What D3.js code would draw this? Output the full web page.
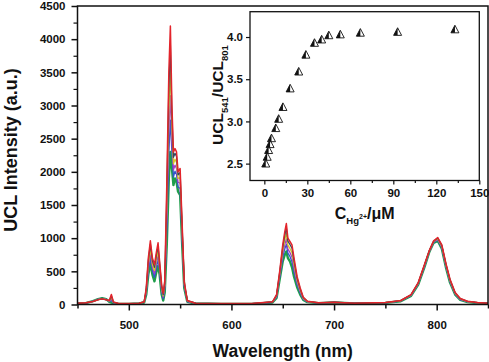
<!DOCTYPE html>
<html>
<head>
<meta charset="utf-8">
<script src="https://cdn.jsdelivr.net/npm/d3@7"></script>
<style>
  html, body { margin: 0; padding: 0; background: #fff; }
  svg { display: block; }
  text { font-family: "Liberation Sans", Arial, sans-serif; font-weight: bold; fill: #111; }
</style>
</head>
<body>
<div id="chart"></div>
<script>
// Spektren (Wellenlänge in nm) – von unten (grün) nach oben (rot)
const wavelengths = [450,458,465,470,474,478,481,483,485,490,500,510,515,517,519,521,523,525,527,528.5,530,532,533.5,535,537,539,540.5,542,543.5,545,546.5,548,550,552,554,557,565,590,620,640,644,647,650,652,653.5,655,657,659,661,664,667,670,674,685,700,720,750,765,775,782,788,793,797,801,805,809,813,818,823,830,840,850];

const specGreen  = [15,20,50,80,95,80,40,30,20,10,10,15,30,150,450,620,450,350,500,580,450,150,60,180,900,1900,2300,2050,1800,1900,1850,1700,1650,900,250,40,15,10,10,30,100,380,650,750,800,700,650,560,420,260,150,70,35,20,30,15,25,50,130,300,560,800,930,960,840,560,330,150,70,35,20,15];
const specBlue   = [16,21,49,78,92,78,45,60,25,11,11,16,32,175,510,700,515,410,575,665,500,190,85,225,1120,2280,2780,2290,1920,2010,1960,1770,1750,970,275,45,16,11,11,32,112,410,710,840,905,775,725,645,490,300,175,80,39,21,31,16,26,52,135,307,570,805,937,972,855,575,342,157,75,39,22,16];
const specPurple = [17,22,48,76,90,75,49,85,29,12,12,17,35,195,560,770,565,460,635,735,540,215,110,255,1300,2620,3150,2480,2030,2100,2050,1840,1830,1040,295,49,17,12,12,34,122,435,760,905,990,835,785,715,545,330,195,88,42,22,32,17,27,54,139,313,578,809,943,982,867,587,352,163,79,42,24,17];
const specYellow = [18,23,47,74,88,73,53,110,33,13,13,18,36,215,610,840,610,510,695,805,580,245,130,290,1480,2940,3540,2670,2120,2190,2140,1900,1910,1100,315,53,18,13,13,36,132,460,810,975,1075,895,845,780,600,365,215,96,45,23,33,18,28,56,143,319,586,813,949,992,879,599,362,169,83,45,26,18];
const specSlate  = [19,24,46,72,86,71,57,130,37,14,14,19,38,235,660,910,660,560,755,875,620,275,150,325,1660,3260,3910,2860,2220,2280,2230,1955,1990,1155,335,57,19,14,14,38,142,480,860,1045,1155,955,905,850,655,395,235,104,48,24,34,19,29,58,147,325,594,817,955,1002,891,611,372,175,87,48,28,19];
const specRed    = [20,25,45,70,85,70,60,150,40,15,15,20,40,250,700,960,700,600,800,930,650,300,170,350,1800,3500,4200,3000,2300,2350,2300,2000,2050,1200,350,60,20,15,15,40,150,500,900,1100,1220,1000,950,900,700,420,250,110,50,25,35,20,30,60,150,330,600,820,960,1010,900,620,380,180,90,50,30,20];

const spectra = [specGreen, specBlue, specPurple, specYellow, specSlate, specRed];
const specColors = ["#1e9e4a", "#3355cc", "#a23cc4", "#d8c825", "#34495e", "#e3242b"];
const specWidths = [2.4, 1.3, 1.3, 1.3, 1.3, 1.5];

// Achsen-Ticks
const xTicksMain = [500, 600, 700, 800];
const yTicksMain = [0, 500, 1000, 1500, 2000, 2500, 3000, 3500, 4000, 4500];

// Inset: Verhältnis UCL541/UCL801 gegen c(Hg2+)
const concHg = [1, 2, 3, 4, 5, 8, 10, 13, 18, 24, 29, 35, 40, 45, 53, 67, 93, 133];
const ratio  = [2.50, 2.58, 2.66, 2.73, 2.80, 2.92, 3.03, 3.17, 3.39, 3.59, 3.79, 3.93, 3.97, 4.02, 4.03, 4.05, 4.06, 4.09];
const xTicksInset = [0, 30, 60, 90, 120, 150];
const yTicksInset = [2.5, 3.0, 3.5, 4.0];

const W = 489, H = 362;
const M = { left: 77.5, right: 488, top: 6, bottom: 304.5 };

const svg = d3.select("#chart").append("svg")
  .attr("width", W)
  .attr("height", H);

const x = d3.scaleLinear().domain([450, 850]).range([M.left, M.right]);
const y = d3.scaleLinear().domain([0, 4500]).range([M.bottom, M.top]);

// Spektren
const line = d3.line()
  .x((d, i) => x(wavelengths[i]))
  .y(d => y(d));

const gSpec = svg.append("g");
spectra.forEach((s, k) => {
  gSpec.append("path")
    .datum(s)
    .attr("d", line)
    .attr("fill", "none")
    .attr("stroke", specColors[k])
    .attr("stroke-width", specWidths[k])
    .attr("stroke-linejoin", "round");
});

// Rahmen
svg.append("rect")
  .attr("x", M.left)
  .attr("y", M.top)
  .attr("width", M.right - M.left)
  .attr("height", M.bottom - M.top)
  .attr("fill", "none")
  .attr("stroke", "#111")
  .attr("stroke-width", 1.5);

// x-Achse
const xAxis = d3.axisBottom(x)
  .tickValues(xTicksMain)
  .tickSize(6)
  .tickPadding(10)
  .tickFormat(d3.format("d"));
const gx = svg.append("g")
  .attr("transform", `translate(0,${M.bottom})`)
  .call(xAxis);
gx.select(".domain").remove();
gx.selectAll(".tick line").attr("stroke", "#111").attr("stroke-width", 1.5);
gx.selectAll(".tick text").style("font-size", "11.5px");

const gxMinor = svg.append("g")
  .attr("transform", `translate(0,${M.bottom})`)
  .call(d3.axisBottom(x).tickValues(d3.range(450, 851, 50).filter(v => v % 100 !== 0)).tickSize(4).tickFormat(""));
gxMinor.select(".domain").remove();
gxMinor.selectAll(".tick line").attr("stroke", "#111").attr("stroke-width", 1.5);

// y-Achse
const yAxis = d3.axisLeft(y)
  .tickValues(yTicksMain)
  .tickSize(6)
  .tickPadding(6)
  .tickFormat(d3.format("d"));
const gy = svg.append("g")
  .attr("transform", `translate(${M.left},0)`)
  .call(yAxis);
gy.select(".domain").remove();
gy.selectAll(".tick line").attr("stroke", "#111").attr("stroke-width", 1.5);
gy.selectAll(".tick text").style("font-size", "11.5px");

const gyMinor = svg.append("g")
  .attr("transform", `translate(${M.left},0)`)
  .call(d3.axisLeft(y).tickValues(d3.range(250, 4500, 500)).tickSize(4).tickFormat(""));
gyMinor.select(".domain").remove();
gyMinor.selectAll(".tick line").attr("stroke", "#111").attr("stroke-width", 1.2);

// Achsentitel
svg.append("text")
  .attr("x", (M.left + M.right) / 2)
  .attr("y", 357)
  .attr("text-anchor", "middle")
  .style("font-size", "17.5px")
  .text("Wavelength (nm)");

svg.append("text")
  .attr("transform", `translate(17,150) rotate(-90)`)
  .attr("text-anchor", "middle")
  .style("font-size", "18px")
  .text("UCL Intensity (a.u.)");

// ---------- Inset ----------
const I = { left: 250, right: 479.3, top: 11.7, bottom: 180.5 };
const xi = d3.scaleLinear().domain([-10, 150]).range([I.left, I.right]);
const yi = d3.scaleLinear().domain([2.3, 4.3]).range([I.bottom, I.top]);

svg.append("rect")
  .attr("x", I.left)
  .attr("y", I.top)
  .attr("width", I.right - I.left)
  .attr("height", I.bottom - I.top)
  .attr("fill", "#fff")
  .attr("stroke", "#111")
  .attr("stroke-width", 1.3);

const gxi = svg.append("g")
  .attr("transform", `translate(0,${I.bottom})`)
  .call(d3.axisBottom(xi).tickValues(xTicksInset).tickSize(4).tickPadding(4).tickFormat(d3.format("d")));
gxi.select(".domain").remove();
gxi.selectAll(".tick line").attr("stroke", "#111").attr("stroke-width", 1.2);
gxi.selectAll(".tick text").style("font-size", "11.5px");

const gxiMinor = svg.append("g")
  .attr("transform", `translate(0,${I.bottom})`)
  .call(d3.axisBottom(xi).tickValues(d3.range(15, 150, 30)).tickSize(2.5).tickFormat(""));
gxiMinor.select(".domain").remove();
gxiMinor.selectAll(".tick line").attr("stroke", "#111").attr("stroke-width", 1.2);

const gyi = svg.append("g")
  .attr("transform", `translate(${I.left},0)`)
  .call(d3.axisLeft(yi).tickValues(yTicksInset).tickSize(4).tickPadding(3).tickFormat(d3.format(".1f")));
gyi.select(".domain").remove();
gyi.selectAll(".tick line").attr("stroke", "#111").attr("stroke-width", 1.2);
gyi.selectAll(".tick text").style("font-size", "11.5px");

// halb gefüllte Dreiecke
const tri = (cx, cy) => `M${cx},${cy - 4.2}L${cx - 4},${cy + 3.4}L${cx + 4},${cy + 3.4}Z`;
const triLeft = (cx, cy) => `M${cx},${cy - 4.2}L${cx - 4},${cy + 3.4}L${cx},${cy + 3.4}Z`;

const gPts = svg.append("g");
concHg.forEach((c, i) => {
  const cx = xi(c), cy = yi(ratio[i]);
  gPts.append("path").attr("d", tri(cx, cy)).attr("fill", "#fff").attr("stroke", "#111").attr("stroke-width", 0.9);
  gPts.append("path").attr("d", triLeft(cx, cy)).attr("fill", "#111");
});

// Inset-Titel
const xl = svg.append("text")
  .attr("x", (I.left + I.right) / 2)
  .attr("y", 219)
  .attr("text-anchor", "middle")
  .style("font-size", "16px");
xl.append("tspan").text("C");
xl.append("tspan").attr("dy", 5).style("font-size", "9.5px").text("Hg");
xl.append("tspan").attr("dy", -5).style("font-size", "7px").text("2+");
xl.append("tspan").attr("dy", 0).text("/\u03bcM");

const yl = svg.append("text")
  .attr("transform", `translate(223,95) rotate(-90)`)
  .attr("text-anchor", "middle")
  .style("font-size", "15.5px");
yl.append("tspan").text("UCL");
yl.append("tspan").attr("dy", 4.5).style("font-size", "9.5px").text("541");
yl.append("tspan").attr("dy", -4.5).text("/UCL");
yl.append("tspan").attr("dy", 4.5).style("font-size", "9.5px").text("801");
</script>
</body>
</html>
